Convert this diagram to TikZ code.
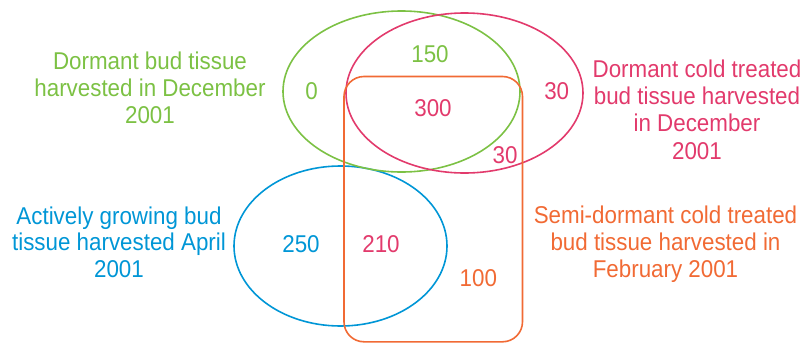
\documentclass[tikz,border=0pt]{standalone}
\usepackage{fontspec}
\setmainfont{Liberation Sans}[FakeStretch=0.92]
\definecolor{cgreen}{RGB}{124,193,68}
\definecolor{cpink}{RGB}{226,58,108}
\definecolor{cblue}{RGB}{0,150,214}
\definecolor{corange}{RGB}{241,106,52}
\tikzset{
  lbl/.style={anchor=base, inner sep=0pt, font=\fontsize{24.3}{27}\selectfont},
  shp/.style={line width=1.6pt},
}
\begin{document}
\begin{tikzpicture}[x=1pt,y=-1pt]
\useasboundingbox (0,0) rectangle (804,343);
% shapes
\draw[shp,cblue] (340.5,246) ellipse [x radius=106.5pt, y radius=80pt];
\draw[shp,cgreen] (401.5,91.5) ellipse [x radius=118.5pt, y radius=80.5pt];
\draw[shp,cpink] (464.5,93) ellipse [x radius=118.5pt, y radius=80pt];
\draw[shp,corange,rounded corners=20pt] (344,76.5) rectangle (522.5,341.8);
% numbers
\node[lbl,cgreen] (n150) at (430,62.5) {150};
\node[lbl,cgreen] (n0) at (311.7,99) {0};
\node[lbl,cpink] (n300) at (433,116) {300};
\node[lbl,cpink] (n30a) at (556.7,99.3) {30};
\node[lbl,cpink] (n30b) at (505,163.3) {30};
\node[lbl,cblue] (n250) at (301,252.3) {250};
\node[lbl,cpink] (n210) at (381,252.3) {210};
\node[lbl,corange] (n100) at (478.3,286) {100};
% labels
\node[lbl,cgreen] (g1) at (150,69) {Dormant bud tissue};
\node[lbl,cgreen] (g2) at (150,96.5) {harvested in December};
\node[lbl,cgreen] (g3) at (150,123.5) {2001};
\node[lbl,cpink] (p1) at (697,77) {Dormant cold treated};
\node[lbl,cpink] (p2) at (697,104.3) {bud tissue harvested};
\node[lbl,cpink] (p3) at (697,131.6) {in December};
\node[lbl,cpink] (p4) at (697,159) {2001};
\node[lbl,cblue] (b1) at (119,224) {Actively growing bud};
\node[lbl,cblue] (b2) at (119,250.5) {tissue harvested April};
\node[lbl,cblue] (b3) at (119,277) {2001};
\node[lbl,corange] (o1) at (665.5,223) {Semi-dormant cold treated};
\node[lbl,corange] (o2) at (665.5,250) {bud tissue harvested in};
\node[lbl,corange] (o3) at (665.5,277) {February 2001};
\end{tikzpicture}
\end{document}
